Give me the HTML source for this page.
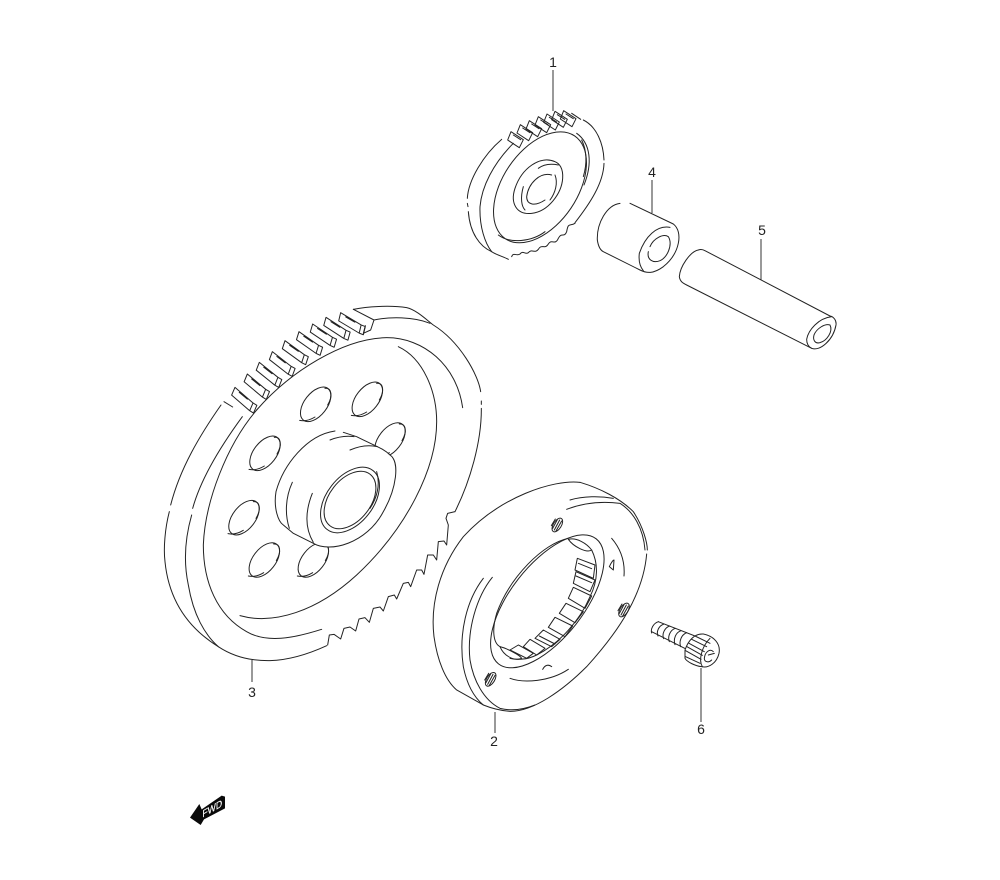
<!DOCTYPE html>
<html><head><meta charset="utf-8"><style>
html,body{margin:0;padding:0;background:#fff;width:1000px;height:880px;overflow:hidden}
svg{display:block}
.l{fill:none;stroke:#222;stroke-width:3;stroke-linecap:round;stroke-linejoin:round}
.w{fill:#fff;stroke:#222;stroke-width:3;stroke-linejoin:round}
.t{font-family:"Liberation Sans",sans-serif;font-size:14px;fill:#222;text-anchor:middle}
.ld{stroke:#333;stroke-width:1;fill:none}
</style></head><body>
<svg width="1000" height="880" viewBox="0 0 1000 880" xmlns="http://www.w3.org/2000/svg">
<defs>
<path id="tooth" d="M-8,24 L0,0 L58,42 L50,66 L-8,24 M14,14 L40,32 M58,42 L70,48 L62,72 L50,66"/>
<path id="mt" d="M-7,25 L3,0 L40,24 L28,48 Z M10,10 L32,24"/>
<g id="hole"><ellipse rx="60" ry="34" transform="rotate(-52)"/><path d="M28,-48 C48,-50 52,-25 36,2"/><path d="M-48,48 C-30,52 -15,46 -2,38"/></g>
<g id="bh"><ellipse rx="23" ry="12" transform="rotate(-58)"/><path d="M-14,10 L0,-16 M-9,15 L7,-15 M-4,18 L13,-12 M-18,2 L-6,-18"/></g>
</defs>

<!-- gear 3 -->
<g transform="translate(150,295) scale(.33333)" class="l">
<path d="M213,330 C150,420 90,520 62,630 M58,650 C45,700 40,760 45,800 C55,900 100,990 205,1055"/>
<path d="M277,365 C200,470 150,560 128,640 M125,660 C105,730 100,800 115,870 C130,960 165,1020 205,1055 C250,1085 300,1098 360,1097 C420,1095 480,1075 530,1052"/>
<path d="M320,345 C420,230 580,130 710,128 C820,128 920,210 938,338"/>
<path d="M320,345 C230,450 165,620 160,750 C160,860 200,960 290,1010 C350,1045 430,1030 515,1003"/>
<path d="M745,155 C820,190 860,290 860,380 C860,520 770,700 620,840 C500,950 370,990 270,962"/>
<path d="M610,43 C650,35 720,30 770,38 C800,45 830,75 850,90 C930,140 985,240 992,290 M994,318 L994,328 M994,340 C995,440 960,560 915,650"/>
<path d="M672,75 C720,65 790,65 840,85"/>
<path d="M610,43 L672,75 L662,105 L640,115 L646,92"/>
<path d="M222,320 L248,336"/>
<use href="#tooth" transform="translate(255,277) rotate(5)"/>
<use href="#tooth" transform="translate(292,237) rotate(4)"/>
<use href="#tooth" transform="translate(328,202) rotate(3)"/>
<use href="#tooth" transform="translate(367,170) rotate(2)"/>
<use href="#tooth" transform="translate(405,137) rotate(0)"/>
<use href="#tooth" transform="translate(447,110) rotate(-1)"/>
<use href="#tooth" transform="translate(488,87) rotate(-2)"/>
<use href="#tooth" transform="translate(528,67) rotate(-3)"/>
<use href="#tooth" transform="translate(572,53) rotate(-5)"/>
<path d="M533,1050 L538,1020 L552,1018 L572,1032 L582,1000 L600,996 L617,1008 L627,972 L645,968 L658,982 L670,940 L690,936 L700,948 L715,905 L733,900 L740,912 L760,865 L775,862 L782,875 L800,825 L815,825 L822,838 L833,780 L850,780 L860,795 L865,740 L882,738 L890,750 L895,690 L888,670 L893,655 L915,650"/>
<use href="#hole" x="497" y="328"/><use href="#hole" x="652" y="313"/><use href="#hole" x="720" y="435"/><use href="#hole" x="345" y="475"/><use href="#hole" x="282" y="668"/><use href="#hole" x="343" y="795"/><use href="#hole" x="490" y="795"/>
<path class="w" d="M555,408 C470,420 400,510 378,590 C370,640 385,680 400,690 L430,715 L490,745 C540,775 650,745 700,650 C740,580 750,500 720,480 C700,460 680,455 620,425 L580,412"/>
<path d="M540,435 C565,425 590,422 612,425 M600,465 C630,452 660,450 682,455"/>
<path d="M427,562 C405,610 405,660 418,700 M487,595 C465,650 465,700 490,742"/>
<ellipse cx="600" cy="615" rx="112" ry="70" transform="rotate(-52 600 615)"/>
<ellipse cx="600" cy="615" rx="98" ry="62" transform="rotate(-52 600 615)"/>
<path d="M680,530 C692,570 680,610 660,640"/>
</g>

<!-- gear 1 -->
<g transform="translate(460,100) scale(.33333)" class="l">
<path d="M125,118 C70,165 25,240 22,295 M22,310 L24,320 M25,335 C30,400 60,440 95,455"/>
<path d="M160,130 C100,190 65,260 60,320 C58,380 75,430 95,455 C110,465 130,470 145,478"/>
<ellipse cx="240" cy="262" rx="186" ry="112" transform="rotate(-56 240 262)"/>
<path d="M350,100 C392,130 398,190 372,255 M365,120 C380,150 382,190 370,230"/>
<path d="M115,405 C150,432 215,425 255,395"/>
<path d="M370,60 C410,80 430,130 432,180 M432,190 C430,250 390,310 345,368"/>
<path d="M155,470 C160,455 170,470 180,462 C190,450 195,465 205,458 C215,445 225,462 235,448 C245,430 255,450 265,432 C275,415 285,438 295,415 C305,395 312,415 320,395 C325,365 330,380 345,370"/>
<use href="#mt" x="150" y="95"/><use href="#mt" x="178" y="74"/><use href="#mt" x="205" y="62"/><use href="#mt" x="232" y="50"/><use href="#mt" x="258" y="42"/><use href="#mt" x="282" y="34"/><use href="#mt" x="308" y="32"/>
<path d="M335,40 L362,58"/>
<path d="M285,185 C240,165 185,205 165,265 C150,310 170,345 215,340 C265,335 305,280 308,235 C310,205 298,190 285,185"/>
<path d="M235,205 C255,190 280,192 295,195 M190,260 C180,295 185,320 195,330"/>
<path d="M275,225 C240,215 205,250 200,290 C200,315 225,320 255,300 M285,225 C295,250 285,280 270,300"/>
</g>

<!-- bush 4, pin 5 -->
<g transform="translate(450,50) scale(.33333)" class="l">
<path d="M510,460 C470,465 440,520 442,570 C445,590 450,600 460,605 L570,660"/>
<path d="M540,460 L670,522 C700,545 690,610 640,650 C610,672 590,670 570,660"/>
<path d="M660,532 C620,525 585,560 568,610 C565,635 570,650 580,662"/>
<path d="M600,590 C610,565 640,550 655,560 C670,585 650,625 630,632 C610,640 590,630 595,605"/>
<path d="M745,600 C720,605 690,650 688,680 C690,695 700,700 710,705 L1085,895 C1110,905 1150,870 1158,825 C1160,810 1150,800 1140,798 L765,602 C758,598 750,598 745,600"/>
<path d="M1145,800 C1105,805 1075,840 1070,868 C1070,880 1075,890 1085,895"/>
<path d="M1092,855 C1100,835 1125,820 1140,825 C1150,845 1130,872 1110,878 C1095,882 1088,870 1092,855"/>
</g>

<!-- part 2 -->
<g transform="translate(420,470) scale(.33333)" class="l">
<path d="M480,37 C400,28 240,80 130,200 C60,290 30,400 42,500 C52,570 75,630 110,660 L190,705"/>
<path d="M480,37 C540,55 600,85 640,125 C670,170 682,220 682,240 M680,252 C670,370 600,480 500,590 C430,660 340,725 270,724 C240,722 215,715 190,705"/>
<path d="M190,325 C140,390 115,490 130,590 C140,640 160,680 190,705"/>
<path d="M217,322 C170,380 140,480 150,570 C160,630 190,690 240,715 C280,725 320,715 345,705"/>
<path d="M450,90 C490,78 540,78 580,85 M440,118 C500,95 560,95 600,100 C640,125 670,175 675,240"/>
<ellipse cx="382" cy="394" rx="238" ry="110" transform="rotate(-52 382 394)"/>
<path d="M575,205 C605,240 615,280 612,318 M445,598 C390,635 310,640 270,625"/>
<path d="M568,290 C575,275 580,270 582,270 L580,300 Z M368,598 C375,585 385,582 395,590"/>
<use href="#bh" x="412" y="165"/><use href="#bh" x="612" y="420"/><use href="#bh" x="212" y="628"/>
</g>
<!-- cage -->
<g transform="translate(490,530) scale(.33333)" class="l">
<path d="M235,25 C160,40 60,140 20,250 C5,300 10,340 30,350"/>
<path d="M305,60 C325,100 325,150 300,200 C270,270 210,340 140,375 C110,390 80,390 60,385"/>
<path d="M235,28 C260,22 290,40 305,60 C290,70 250,50 235,28"/>
<path d="M262,85 L315,105 L310,145 L255,120 Z M265,100 L305,116"/>
<path d="M258,125 L315,150 L300,185 L250,160 Z M258,138 L305,158"/>
<path d="M250,172 L305,198 L285,235 L235,205 Z"/>
<path d="M228,220 L280,245 L255,278 L208,250 Z"/>
<path d="M195,262 L248,288 L225,320 L175,292 Z"/>
<path d="M160,300 L210,328 L185,350 L135,325 Z M148,318 L195,342"/>
<path d="M120,328 L165,355 L140,375 L100,350 Z"/>
<path d="M85,345 L130,370 L110,385 L60,360 Z"/>
<path d="M30,350 C50,355 90,375 95,385 C70,395 40,375 30,350"/>
</g>
<!-- bolt 6 -->
<g transform="translate(645,610) scale(.33333)" class="l">
<path d="M40,35 L150,78 M20,65 L125,118"/>
<path d="M40,35 c-15,5 -24,22 -20,34 M57,42 c-15,5 -24,22 -18,36 M74,48 c-15,5 -24,24 -18,38 M91,55 c-15,5 -24,24 -18,40 M108,62 c-15,5 -24,24 -18,42 M125,68 c-15,5 -24,26 -18,42"/>
<path class="w" d="M120,120 C130,90 150,70 175,72 C205,78 228,100 222,130 C215,160 190,175 170,170 C150,168 125,155 120,145 Z"/>
<path d="M150,78 L195,100 M140,88 L185,110 M132,100 L178,125 M126,110 L172,136 M122,122 L168,148 M122,140 L165,160"/>
<path d="M195,85 C170,110 160,150 172,170"/>
<path d="M205,125 C195,115 180,125 178,145 C178,155 190,160 200,150 M190,135 L208,130"/>
</g>

<path class="ld" d="M553,70V111M652,180V213M761,239V280M252,660V682M495,712V733M701,668V722"/>
<text class="t" x="553" y="67">1</text>
<text class="t" x="652" y="177">4</text>
<text class="t" x="762" y="235">5</text>
<text class="t" x="252" y="697">3</text>
<text class="t" x="494" y="746">2</text>
<text class="t" x="701" y="734">6</text>

<!-- FWD -->
<g transform="translate(170,780) scale(.33333)">
<polygon points="60,113 88,72 95,88 155,47 165,50 165,85 102,118 92,135" fill="#0a0a0a"/>
<text transform="matrix(.87,-.5,0,1,97,113)" font-family="Liberation Sans,sans-serif" font-size="30" fill="#fff" stroke="#fff" stroke-width=".6">FWD</text>
</g>
</svg>
</body></html>
